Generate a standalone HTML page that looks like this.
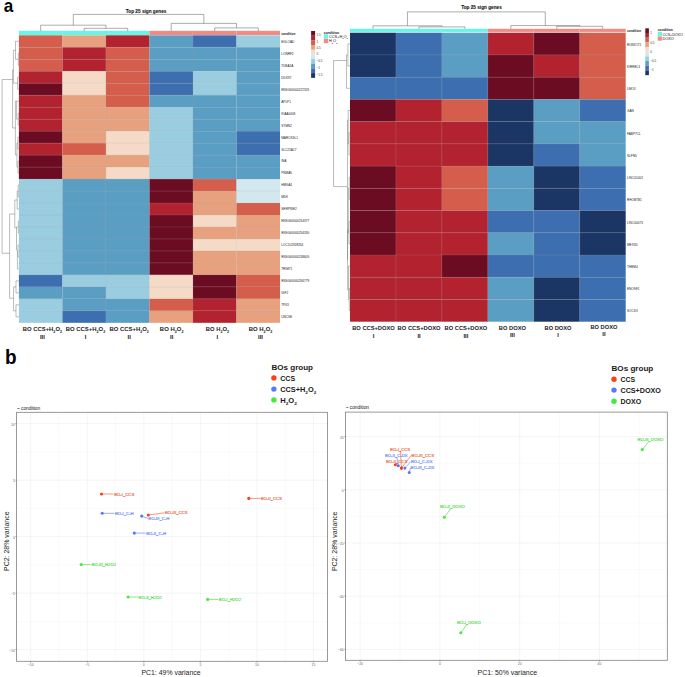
<!DOCTYPE html>
<html><head><meta charset="utf-8"><style>
html,body{margin:0;padding:0;background:#fff;width:685px;height:677px;overflow:hidden}
svg{display:block}
text{font-family:"Liberation Sans",sans-serif}
</style></head><body>
<svg width="685" height="677" viewBox="0 0 685 677" font-family="Liberation Sans, sans-serif">
<rect x="0" y="0" width="685" height="677" fill="#ffffff"/>
<text x="3.65" y="11.6" font-size="19" font-weight="bold" fill="#000" text-anchor="start" textLength="9.5" lengthAdjust="spacingAndGlyphs">a</text>
<text x="4.9" y="364" font-size="19.7" font-weight="bold" fill="#000" text-anchor="start" textLength="11.6" lengthAdjust="spacingAndGlyphs">b</text>
<rect x="18.9" y="30.8" width="43.52" height="4.2" fill="#64f6e6"/>
<rect x="62.42" y="30.8" width="43.52" height="4.2" fill="#64f6e6"/>
<rect x="105.94" y="30.8" width="43.52" height="4.2" fill="#64f6e6"/>
<rect x="149.46" y="30.8" width="43.52" height="4.2" fill="#f08a82"/>
<rect x="192.98" y="30.8" width="43.52" height="4.2" fill="#f08a82"/>
<rect x="236.5" y="30.8" width="43.52" height="4.2" fill="#f08a82"/>
<line x1="62.42" y1="30.8" x2="62.42" y2="35" stroke="#c8c8c8" stroke-width="0.3"/>
<line x1="105.94" y1="30.8" x2="105.94" y2="35" stroke="#c8c8c8" stroke-width="0.3"/>
<line x1="149.46" y1="30.8" x2="149.46" y2="35" stroke="#c8c8c8" stroke-width="0.3"/>
<line x1="192.98" y1="30.8" x2="192.98" y2="35" stroke="#c8c8c8" stroke-width="0.3"/>
<line x1="236.5" y1="30.8" x2="236.5" y2="35" stroke="#c8c8c8" stroke-width="0.3"/>
<rect x="18.9" y="35.3" width="43.52" height="11.98" fill="#d45d4c"/>
<rect x="62.42" y="35.3" width="43.52" height="11.98" fill="#e7a17f"/>
<rect x="105.94" y="35.3" width="43.52" height="11.98" fill="#b2222f"/>
<rect x="149.46" y="35.3" width="43.52" height="11.98" fill="#5a9ec4"/>
<rect x="192.98" y="35.3" width="43.52" height="11.98" fill="#3d6fb0"/>
<rect x="236.5" y="35.3" width="43.52" height="11.98" fill="#9acde0"/>
<rect x="18.9" y="47.28" width="43.52" height="11.98" fill="#d45d4c"/>
<rect x="62.42" y="47.28" width="43.52" height="11.98" fill="#b2222f"/>
<rect x="105.94" y="47.28" width="43.52" height="11.98" fill="#d45d4c"/>
<rect x="149.46" y="47.28" width="43.52" height="11.98" fill="#5a9ec4"/>
<rect x="192.98" y="47.28" width="43.52" height="11.98" fill="#5a9ec4"/>
<rect x="236.5" y="47.28" width="43.52" height="11.98" fill="#5a9ec4"/>
<rect x="18.9" y="59.26" width="43.52" height="11.98" fill="#d45d4c"/>
<rect x="62.42" y="59.26" width="43.52" height="11.98" fill="#b2222f"/>
<rect x="105.94" y="59.26" width="43.52" height="11.98" fill="#d45d4c"/>
<rect x="149.46" y="59.26" width="43.52" height="11.98" fill="#5a9ec4"/>
<rect x="192.98" y="59.26" width="43.52" height="11.98" fill="#5a9ec4"/>
<rect x="236.5" y="59.26" width="43.52" height="11.98" fill="#5a9ec4"/>
<rect x="18.9" y="71.24" width="43.52" height="11.98" fill="#b2222f"/>
<rect x="62.42" y="71.24" width="43.52" height="11.98" fill="#f5dac8"/>
<rect x="105.94" y="71.24" width="43.52" height="11.98" fill="#d45d4c"/>
<rect x="149.46" y="71.24" width="43.52" height="11.98" fill="#3d6fb0"/>
<rect x="192.98" y="71.24" width="43.52" height="11.98" fill="#9acde0"/>
<rect x="236.5" y="71.24" width="43.52" height="11.98" fill="#5a9ec4"/>
<rect x="18.9" y="83.22" width="43.52" height="11.98" fill="#6b0c22"/>
<rect x="62.42" y="83.22" width="43.52" height="11.98" fill="#f5dac8"/>
<rect x="105.94" y="83.22" width="43.52" height="11.98" fill="#d45d4c"/>
<rect x="149.46" y="83.22" width="43.52" height="11.98" fill="#3d6fb0"/>
<rect x="192.98" y="83.22" width="43.52" height="11.98" fill="#9acde0"/>
<rect x="236.5" y="83.22" width="43.52" height="11.98" fill="#5a9ec4"/>
<rect x="18.9" y="95.2" width="43.52" height="11.98" fill="#b2222f"/>
<rect x="62.42" y="95.2" width="43.52" height="11.98" fill="#e7a17f"/>
<rect x="105.94" y="95.2" width="43.52" height="11.98" fill="#d45d4c"/>
<rect x="149.46" y="95.2" width="43.52" height="11.98" fill="#5a9ec4"/>
<rect x="192.98" y="95.2" width="43.52" height="11.98" fill="#5a9ec4"/>
<rect x="236.5" y="95.2" width="43.52" height="11.98" fill="#5a9ec4"/>
<rect x="18.9" y="107.18" width="43.52" height="11.98" fill="#b2222f"/>
<rect x="62.42" y="107.18" width="43.52" height="11.98" fill="#e7a17f"/>
<rect x="105.94" y="107.18" width="43.52" height="11.98" fill="#e7a17f"/>
<rect x="149.46" y="107.18" width="43.52" height="11.98" fill="#9acde0"/>
<rect x="192.98" y="107.18" width="43.52" height="11.98" fill="#5a9ec4"/>
<rect x="236.5" y="107.18" width="43.52" height="11.98" fill="#5a9ec4"/>
<rect x="18.9" y="119.16" width="43.52" height="11.98" fill="#b2222f"/>
<rect x="62.42" y="119.16" width="43.52" height="11.98" fill="#e7a17f"/>
<rect x="105.94" y="119.16" width="43.52" height="11.98" fill="#e7a17f"/>
<rect x="149.46" y="119.16" width="43.52" height="11.98" fill="#9acde0"/>
<rect x="192.98" y="119.16" width="43.52" height="11.98" fill="#5a9ec4"/>
<rect x="236.5" y="119.16" width="43.52" height="11.98" fill="#5a9ec4"/>
<rect x="18.9" y="131.14" width="43.52" height="11.98" fill="#6b0c22"/>
<rect x="62.42" y="131.14" width="43.52" height="11.98" fill="#e7a17f"/>
<rect x="105.94" y="131.14" width="43.52" height="11.98" fill="#f5dac8"/>
<rect x="149.46" y="131.14" width="43.52" height="11.98" fill="#9acde0"/>
<rect x="192.98" y="131.14" width="43.52" height="11.98" fill="#5a9ec4"/>
<rect x="236.5" y="131.14" width="43.52" height="11.98" fill="#3d6fb0"/>
<rect x="18.9" y="143.12" width="43.52" height="11.98" fill="#b2222f"/>
<rect x="62.42" y="143.12" width="43.52" height="11.98" fill="#d45d4c"/>
<rect x="105.94" y="143.12" width="43.52" height="11.98" fill="#f5dac8"/>
<rect x="149.46" y="143.12" width="43.52" height="11.98" fill="#9acde0"/>
<rect x="192.98" y="143.12" width="43.52" height="11.98" fill="#5a9ec4"/>
<rect x="236.5" y="143.12" width="43.52" height="11.98" fill="#3d6fb0"/>
<rect x="18.9" y="155.1" width="43.52" height="11.98" fill="#6b0c22"/>
<rect x="62.42" y="155.1" width="43.52" height="11.98" fill="#e7a17f"/>
<rect x="105.94" y="155.1" width="43.52" height="11.98" fill="#e7a17f"/>
<rect x="149.46" y="155.1" width="43.52" height="11.98" fill="#9acde0"/>
<rect x="192.98" y="155.1" width="43.52" height="11.98" fill="#5a9ec4"/>
<rect x="236.5" y="155.1" width="43.52" height="11.98" fill="#5a9ec4"/>
<rect x="18.9" y="167.08" width="43.52" height="11.98" fill="#6b0c22"/>
<rect x="62.42" y="167.08" width="43.52" height="11.98" fill="#e7a17f"/>
<rect x="105.94" y="167.08" width="43.52" height="11.98" fill="#f5dac8"/>
<rect x="149.46" y="167.08" width="43.52" height="11.98" fill="#9acde0"/>
<rect x="192.98" y="167.08" width="43.52" height="11.98" fill="#5a9ec4"/>
<rect x="236.5" y="167.08" width="43.52" height="11.98" fill="#5a9ec4"/>
<rect x="18.9" y="179.06" width="43.52" height="11.98" fill="#9acde0"/>
<rect x="62.42" y="179.06" width="43.52" height="11.98" fill="#5a9ec4"/>
<rect x="105.94" y="179.06" width="43.52" height="11.98" fill="#5a9ec4"/>
<rect x="149.46" y="179.06" width="43.52" height="11.98" fill="#6b0c22"/>
<rect x="192.98" y="179.06" width="43.52" height="11.98" fill="#d45d4c"/>
<rect x="236.5" y="179.06" width="43.52" height="11.98" fill="#d2e7ee"/>
<rect x="18.9" y="191.04" width="43.52" height="11.98" fill="#9acde0"/>
<rect x="62.42" y="191.04" width="43.52" height="11.98" fill="#5a9ec4"/>
<rect x="105.94" y="191.04" width="43.52" height="11.98" fill="#5a9ec4"/>
<rect x="149.46" y="191.04" width="43.52" height="11.98" fill="#6b0c22"/>
<rect x="192.98" y="191.04" width="43.52" height="11.98" fill="#e7a17f"/>
<rect x="236.5" y="191.04" width="43.52" height="11.98" fill="#d2e7ee"/>
<rect x="18.9" y="203.02" width="43.52" height="11.98" fill="#9acde0"/>
<rect x="62.42" y="203.02" width="43.52" height="11.98" fill="#5a9ec4"/>
<rect x="105.94" y="203.02" width="43.52" height="11.98" fill="#5a9ec4"/>
<rect x="149.46" y="203.02" width="43.52" height="11.98" fill="#b2222f"/>
<rect x="192.98" y="203.02" width="43.52" height="11.98" fill="#e7a17f"/>
<rect x="236.5" y="203.02" width="43.52" height="11.98" fill="#d45d4c"/>
<rect x="18.9" y="215" width="43.52" height="11.98" fill="#9acde0"/>
<rect x="62.42" y="215" width="43.52" height="11.98" fill="#5a9ec4"/>
<rect x="105.94" y="215" width="43.52" height="11.98" fill="#5a9ec4"/>
<rect x="149.46" y="215" width="43.52" height="11.98" fill="#6b0c22"/>
<rect x="192.98" y="215" width="43.52" height="11.98" fill="#f5dac8"/>
<rect x="236.5" y="215" width="43.52" height="11.98" fill="#e7a17f"/>
<rect x="18.9" y="226.98" width="43.52" height="11.98" fill="#9acde0"/>
<rect x="62.42" y="226.98" width="43.52" height="11.98" fill="#5a9ec4"/>
<rect x="105.94" y="226.98" width="43.52" height="11.98" fill="#5a9ec4"/>
<rect x="149.46" y="226.98" width="43.52" height="11.98" fill="#6b0c22"/>
<rect x="192.98" y="226.98" width="43.52" height="11.98" fill="#e7a17f"/>
<rect x="236.5" y="226.98" width="43.52" height="11.98" fill="#e7a17f"/>
<rect x="18.9" y="238.96" width="43.52" height="11.98" fill="#9acde0"/>
<rect x="62.42" y="238.96" width="43.52" height="11.98" fill="#5a9ec4"/>
<rect x="105.94" y="238.96" width="43.52" height="11.98" fill="#5a9ec4"/>
<rect x="149.46" y="238.96" width="43.52" height="11.98" fill="#6b0c22"/>
<rect x="192.98" y="238.96" width="43.52" height="11.98" fill="#f5dac8"/>
<rect x="236.5" y="238.96" width="43.52" height="11.98" fill="#f5dac8"/>
<rect x="18.9" y="250.94" width="43.52" height="11.98" fill="#9acde0"/>
<rect x="62.42" y="250.94" width="43.52" height="11.98" fill="#5a9ec4"/>
<rect x="105.94" y="250.94" width="43.52" height="11.98" fill="#5a9ec4"/>
<rect x="149.46" y="250.94" width="43.52" height="11.98" fill="#6b0c22"/>
<rect x="192.98" y="250.94" width="43.52" height="11.98" fill="#e7a17f"/>
<rect x="236.5" y="250.94" width="43.52" height="11.98" fill="#e7a17f"/>
<rect x="18.9" y="262.92" width="43.52" height="11.98" fill="#9acde0"/>
<rect x="62.42" y="262.92" width="43.52" height="11.98" fill="#5a9ec4"/>
<rect x="105.94" y="262.92" width="43.52" height="11.98" fill="#5a9ec4"/>
<rect x="149.46" y="262.92" width="43.52" height="11.98" fill="#6b0c22"/>
<rect x="192.98" y="262.92" width="43.52" height="11.98" fill="#e7a17f"/>
<rect x="236.5" y="262.92" width="43.52" height="11.98" fill="#e7a17f"/>
<rect x="18.9" y="274.9" width="43.52" height="11.98" fill="#3d6fb0"/>
<rect x="62.42" y="274.9" width="43.52" height="11.98" fill="#9acde0"/>
<rect x="105.94" y="274.9" width="43.52" height="11.98" fill="#9acde0"/>
<rect x="149.46" y="274.9" width="43.52" height="11.98" fill="#f5dac8"/>
<rect x="192.98" y="274.9" width="43.52" height="11.98" fill="#6b0c22"/>
<rect x="236.5" y="274.9" width="43.52" height="11.98" fill="#d45d4c"/>
<rect x="18.9" y="286.88" width="43.52" height="11.98" fill="#5a9ec4"/>
<rect x="62.42" y="286.88" width="43.52" height="11.98" fill="#5a9ec4"/>
<rect x="105.94" y="286.88" width="43.52" height="11.98" fill="#9acde0"/>
<rect x="149.46" y="286.88" width="43.52" height="11.98" fill="#f5dac8"/>
<rect x="192.98" y="286.88" width="43.52" height="11.98" fill="#6b0c22"/>
<rect x="236.5" y="286.88" width="43.52" height="11.98" fill="#d45d4c"/>
<rect x="18.9" y="298.86" width="43.52" height="11.98" fill="#9acde0"/>
<rect x="62.42" y="298.86" width="43.52" height="11.98" fill="#5a9ec4"/>
<rect x="105.94" y="298.86" width="43.52" height="11.98" fill="#5a9ec4"/>
<rect x="149.46" y="298.86" width="43.52" height="11.98" fill="#d45d4c"/>
<rect x="192.98" y="298.86" width="43.52" height="11.98" fill="#b2222f"/>
<rect x="236.5" y="298.86" width="43.52" height="11.98" fill="#e7a17f"/>
<rect x="18.9" y="310.84" width="43.52" height="11.98" fill="#9acde0"/>
<rect x="62.42" y="310.84" width="43.52" height="11.98" fill="#3d6fb0"/>
<rect x="105.94" y="310.84" width="43.52" height="11.98" fill="#5a9ec4"/>
<rect x="149.46" y="310.84" width="43.52" height="11.98" fill="#e7a17f"/>
<rect x="192.98" y="310.84" width="43.52" height="11.98" fill="#b2222f"/>
<rect x="236.5" y="310.84" width="43.52" height="11.98" fill="#e7a17f"/>
<line x1="18.9" y1="47.28" x2="280.02" y2="47.28" stroke="#a0a0a0" stroke-width="0.35" stroke-opacity="0.55"/>
<line x1="18.9" y1="59.26" x2="280.02" y2="59.26" stroke="#a0a0a0" stroke-width="0.35" stroke-opacity="0.55"/>
<line x1="18.9" y1="71.24" x2="280.02" y2="71.24" stroke="#a0a0a0" stroke-width="0.35" stroke-opacity="0.55"/>
<line x1="18.9" y1="83.22" x2="280.02" y2="83.22" stroke="#a0a0a0" stroke-width="0.35" stroke-opacity="0.55"/>
<line x1="18.9" y1="95.2" x2="280.02" y2="95.2" stroke="#a0a0a0" stroke-width="0.35" stroke-opacity="0.55"/>
<line x1="18.9" y1="107.18" x2="280.02" y2="107.18" stroke="#a0a0a0" stroke-width="0.35" stroke-opacity="0.55"/>
<line x1="18.9" y1="119.16" x2="280.02" y2="119.16" stroke="#a0a0a0" stroke-width="0.35" stroke-opacity="0.55"/>
<line x1="18.9" y1="131.14" x2="280.02" y2="131.14" stroke="#a0a0a0" stroke-width="0.35" stroke-opacity="0.55"/>
<line x1="18.9" y1="143.12" x2="280.02" y2="143.12" stroke="#a0a0a0" stroke-width="0.35" stroke-opacity="0.55"/>
<line x1="18.9" y1="155.1" x2="280.02" y2="155.1" stroke="#a0a0a0" stroke-width="0.35" stroke-opacity="0.55"/>
<line x1="18.9" y1="167.08" x2="280.02" y2="167.08" stroke="#a0a0a0" stroke-width="0.35" stroke-opacity="0.55"/>
<line x1="18.9" y1="179.06" x2="280.02" y2="179.06" stroke="#a0a0a0" stroke-width="0.35" stroke-opacity="0.55"/>
<line x1="18.9" y1="191.04" x2="280.02" y2="191.04" stroke="#a0a0a0" stroke-width="0.35" stroke-opacity="0.55"/>
<line x1="18.9" y1="203.02" x2="280.02" y2="203.02" stroke="#a0a0a0" stroke-width="0.35" stroke-opacity="0.55"/>
<line x1="18.9" y1="215" x2="280.02" y2="215" stroke="#a0a0a0" stroke-width="0.35" stroke-opacity="0.55"/>
<line x1="18.9" y1="226.98" x2="280.02" y2="226.98" stroke="#a0a0a0" stroke-width="0.35" stroke-opacity="0.55"/>
<line x1="18.9" y1="238.96" x2="280.02" y2="238.96" stroke="#a0a0a0" stroke-width="0.35" stroke-opacity="0.55"/>
<line x1="18.9" y1="250.94" x2="280.02" y2="250.94" stroke="#a0a0a0" stroke-width="0.35" stroke-opacity="0.55"/>
<line x1="18.9" y1="262.92" x2="280.02" y2="262.92" stroke="#a0a0a0" stroke-width="0.35" stroke-opacity="0.55"/>
<line x1="18.9" y1="274.9" x2="280.02" y2="274.9" stroke="#a0a0a0" stroke-width="0.35" stroke-opacity="0.55"/>
<line x1="18.9" y1="286.88" x2="280.02" y2="286.88" stroke="#a0a0a0" stroke-width="0.35" stroke-opacity="0.55"/>
<line x1="18.9" y1="298.86" x2="280.02" y2="298.86" stroke="#a0a0a0" stroke-width="0.35" stroke-opacity="0.55"/>
<line x1="18.9" y1="310.84" x2="280.02" y2="310.84" stroke="#a0a0a0" stroke-width="0.35" stroke-opacity="0.55"/>
<line x1="62.42" y1="35.3" x2="62.42" y2="322.82" stroke="#a0a0a0" stroke-width="0.35" stroke-opacity="0.55"/>
<line x1="105.94" y1="35.3" x2="105.94" y2="322.82" stroke="#a0a0a0" stroke-width="0.35" stroke-opacity="0.55"/>
<line x1="149.46" y1="35.3" x2="149.46" y2="322.82" stroke="#a0a0a0" stroke-width="0.35" stroke-opacity="0.55"/>
<line x1="192.98" y1="35.3" x2="192.98" y2="322.82" stroke="#a0a0a0" stroke-width="0.35" stroke-opacity="0.55"/>
<line x1="236.5" y1="35.3" x2="236.5" y2="322.82" stroke="#a0a0a0" stroke-width="0.35" stroke-opacity="0.55"/>
<text x="146.1" y="12.6" font-size="5.1" font-weight="bold" fill="#111" text-anchor="middle" stroke="#111" stroke-width="0.1" textLength="40.6" lengthAdjust="spacingAndGlyphs">Top 25 sign genes</text>
<polyline points="84.18,31 84.18,28.3 127.7,28.3 127.7,31" fill="none" stroke="#5a5a5a" stroke-width="0.5"/>
<polyline points="40.66,31 40.66,25.2 105.94,25.2 105.94,28.3" fill="none" stroke="#5a5a5a" stroke-width="0.5"/>
<polyline points="214.74,31 214.74,27.9 258.26,27.9 258.26,31" fill="none" stroke="#5a5a5a" stroke-width="0.5"/>
<polyline points="171.22,31 171.22,23.4 236.5,23.4 236.5,27.9" fill="none" stroke="#5a5a5a" stroke-width="0.5"/>
<polyline points="73.3,25.2 73.3,14.4 203.86,14.4 203.86,23.4" fill="none" stroke="#5a5a5a" stroke-width="0.5"/>
<text x="281.2" y="34.7" font-size="3.15" font-weight="bold" fill="#222" text-anchor="start">condition</text>
<text x="281.2" y="43.09" font-size="3.15" font-weight="normal" fill="#222" text-anchor="start">EGLOAD</text>
<text x="281.2" y="55.03" font-size="3.15" font-weight="normal" fill="#222" text-anchor="start">LONRF2</text>
<text x="281.2" y="66.97" font-size="3.15" font-weight="normal" fill="#222" text-anchor="start">TUBA1A</text>
<text x="281.2" y="78.91" font-size="3.15" font-weight="normal" fill="#222" text-anchor="start">DDX3Y</text>
<text x="281.2" y="90.85" font-size="3.15" font-weight="normal" fill="#222" text-anchor="start">ENSG00000222325</text>
<text x="281.2" y="102.79" font-size="3.15" font-weight="normal" fill="#222" text-anchor="start">APLP1</text>
<text x="281.2" y="114.73" font-size="3.15" font-weight="normal" fill="#222" text-anchor="start">KIAA0408</text>
<text x="281.2" y="126.67" font-size="3.15" font-weight="normal" fill="#222" text-anchor="start">STMN2</text>
<text x="281.2" y="138.61" font-size="3.15" font-weight="normal" fill="#222" text-anchor="start">MARCKSL1</text>
<text x="281.2" y="150.55" font-size="3.15" font-weight="normal" fill="#222" text-anchor="start">SLC22A17</text>
<text x="281.2" y="162.49" font-size="3.15" font-weight="normal" fill="#222" text-anchor="start">INA</text>
<text x="281.2" y="174.43" font-size="3.15" font-weight="normal" fill="#222" text-anchor="start">PNMA5</text>
<text x="281.2" y="186.37" font-size="3.15" font-weight="normal" fill="#222" text-anchor="start">HMGA1</text>
<text x="281.2" y="198.31" font-size="3.15" font-weight="normal" fill="#222" text-anchor="start">MDK</text>
<text x="281.2" y="210.25" font-size="3.15" font-weight="normal" fill="#222" text-anchor="start">SERPINE2</text>
<text x="281.2" y="222.19" font-size="3.15" font-weight="normal" fill="#222" text-anchor="start">ENSG00000254377</text>
<text x="281.2" y="234.13" font-size="3.15" font-weight="normal" fill="#222" text-anchor="start">ENSG00000254330</text>
<text x="281.2" y="246.07" font-size="3.15" font-weight="normal" fill="#222" text-anchor="start">LOC101928254</text>
<text x="281.2" y="258.01" font-size="3.15" font-weight="normal" fill="#222" text-anchor="start">ENSG00000248605</text>
<text x="281.2" y="269.95" font-size="3.15" font-weight="normal" fill="#222" text-anchor="start">TRIM71</text>
<text x="281.2" y="281.89" font-size="3.15" font-weight="normal" fill="#222" text-anchor="start">ENSG00000284779</text>
<text x="281.2" y="293.83" font-size="3.15" font-weight="normal" fill="#222" text-anchor="start">IGF2</text>
<text x="281.2" y="305.77" font-size="3.15" font-weight="normal" fill="#222" text-anchor="start">TP63</text>
<text x="281.2" y="317.71" font-size="3.15" font-weight="normal" fill="#222" text-anchor="start">UNC5B</text>
<polyline points="18.9,53.27 18.3,53.27 18.3,65.25 18.9,65.25" fill="none" stroke="#6a6a6a" stroke-width="0.45"/>
<polyline points="18.9,41.29 15.5,41.29 15.5,59.26 18.3,59.26" fill="none" stroke="#6a6a6a" stroke-width="0.45"/>
<polyline points="18.9,77.23 17.6,77.23 17.6,89.21 18.9,89.21" fill="none" stroke="#6a6a6a" stroke-width="0.45"/>
<polyline points="15.5,50.3 13.4,50.3 13.4,83.1 17.6,83.1" fill="none" stroke="#6a6a6a" stroke-width="0.45"/>
<polyline points="18.9,113.17 18.2,113.17 18.2,125.15 18.9,125.15" fill="none" stroke="#6a6a6a" stroke-width="0.45"/>
<polyline points="18.9,101.19 16.6,101.19 16.6,119.16 18.2,119.16" fill="none" stroke="#6a6a6a" stroke-width="0.45"/>
<polyline points="18.9,137.13 17.9,137.13 17.9,149.11 18.9,149.11" fill="none" stroke="#6a6a6a" stroke-width="0.45"/>
<polyline points="18.9,161.09 18,161.09 18,173.07 18.9,173.07" fill="none" stroke="#6a6a6a" stroke-width="0.45"/>
<polyline points="17.9,143.12 16.9,143.12 16.9,167.08 18,167.08" fill="none" stroke="#6a6a6a" stroke-width="0.45"/>
<polyline points="16.6,101 15.4,101 15.4,155 16.9,155" fill="none" stroke="#6a6a6a" stroke-width="0.45"/>
<polyline points="13.4,70 12.6,70 12.6,128 15.4,128" fill="none" stroke="#6a6a6a" stroke-width="0.45"/>
<polyline points="2.1,79.5 2.1,253.3" fill="none" stroke="#6a6a6a" stroke-width="0.45"/>
<polyline points="2.1,79.5 12.6,79.5" fill="none" stroke="#6a6a6a" stroke-width="0.45"/>
<polyline points="2.1,253.3 9.6,253.3" fill="none" stroke="#6a6a6a" stroke-width="0.45"/>
<polyline points="18.9,185.05 18.2,185.05 18.2,197.03 18.9,197.03" fill="none" stroke="#6a6a6a" stroke-width="0.45"/>
<polyline points="18.9,209.01 17.2,209.01 17.2,191.04 18.2,191.04" fill="none" stroke="#6a6a6a" stroke-width="0.45"/>
<polyline points="18.9,220.99 18.3,220.99 18.3,232.97 18.9,232.97" fill="none" stroke="#6a6a6a" stroke-width="0.45"/>
<polyline points="18.9,244.95 18,244.95 18,256.93 18.9,256.93" fill="none" stroke="#6a6a6a" stroke-width="0.45"/>
<polyline points="18.9,268.91 17.4,268.91 17.4,250.94 18,250.94" fill="none" stroke="#6a6a6a" stroke-width="0.45"/>
<polyline points="18.3,226.98 16.5,226.98 16.5,250 17.4,250" fill="none" stroke="#6a6a6a" stroke-width="0.45"/>
<polyline points="17.2,200 14.8,200 14.8,228 16.5,228" fill="none" stroke="#6a6a6a" stroke-width="0.45"/>
<polyline points="18.9,280.89 16,280.89 16,292.87 18.9,292.87" fill="none" stroke="#6a6a6a" stroke-width="0.45"/>
<polyline points="18.9,304.85 16,304.85 16,316.83 18.9,316.83" fill="none" stroke="#6a6a6a" stroke-width="0.45"/>
<polyline points="16,286.88 13.6,286.88 13.6,310.84 16,310.84" fill="none" stroke="#6a6a6a" stroke-width="0.45"/>
<polyline points="14.8,214 9.6,214 9.6,298.2 13.6,298.2" fill="none" stroke="#6a6a6a" stroke-width="0.45"/>
<text x="42.4" y="331" font-size="5.9" font-weight="bold" fill="#1a1a1a" text-anchor="middle" textLength="39.2" lengthAdjust="spacingAndGlyphs">BO CCS+H<tspan font-size="62%" dy="0.53em">2</tspan><tspan dy="-0.33em">O</tspan><tspan font-size="62%" dy="0.53em">2</tspan></text>
<text x="42.4" y="338.6" font-size="5.9" font-weight="bold" fill="#1a1a1a" text-anchor="middle">III</text>
<text x="85.5" y="331" font-size="5.9" font-weight="bold" fill="#1a1a1a" text-anchor="middle" textLength="39.5" lengthAdjust="spacingAndGlyphs">BO CCS+H<tspan font-size="62%" dy="0.53em">2</tspan><tspan dy="-0.33em">O</tspan><tspan font-size="62%" dy="0.53em">2</tspan></text>
<text x="85.5" y="338.6" font-size="5.9" font-weight="bold" fill="#1a1a1a" text-anchor="middle">I</text>
<text x="129.2" y="331" font-size="5.9" font-weight="bold" fill="#1a1a1a" text-anchor="middle" textLength="39.4" lengthAdjust="spacingAndGlyphs">BO CCS+H<tspan font-size="62%" dy="0.53em">2</tspan><tspan dy="-0.33em">O</tspan><tspan font-size="62%" dy="0.53em">2</tspan></text>
<text x="129.2" y="338.6" font-size="5.9" font-weight="bold" fill="#1a1a1a" text-anchor="middle">II</text>
<text x="171.65" y="331" font-size="5.9" font-weight="bold" fill="#1a1a1a" text-anchor="middle" textLength="23.6" lengthAdjust="spacingAndGlyphs">BO H<tspan font-size="62%" dy="0.53em">2</tspan><tspan dy="-0.33em">O</tspan><tspan font-size="62%" dy="0.53em">2</tspan></text>
<text x="171.65" y="338.6" font-size="5.9" font-weight="bold" fill="#1a1a1a" text-anchor="middle">II</text>
<text x="217.4" y="331" font-size="5.9" font-weight="bold" fill="#1a1a1a" text-anchor="middle" textLength="23.2" lengthAdjust="spacingAndGlyphs">BO H<tspan font-size="62%" dy="0.53em">2</tspan><tspan dy="-0.33em">O</tspan><tspan font-size="62%" dy="0.53em">2</tspan></text>
<text x="217.4" y="338.6" font-size="5.9" font-weight="bold" fill="#1a1a1a" text-anchor="middle">I</text>
<text x="260.55" y="331" font-size="5.9" font-weight="bold" fill="#1a1a1a" text-anchor="middle" textLength="23.6" lengthAdjust="spacingAndGlyphs">BO H<tspan font-size="62%" dy="0.53em">2</tspan><tspan dy="-0.33em">O</tspan><tspan font-size="62%" dy="0.53em">2</tspan></text>
<text x="260.55" y="338.6" font-size="5.9" font-weight="bold" fill="#1a1a1a" text-anchor="middle">III</text>
<rect x="311.1" y="31" width="4" height="4.73" fill="#6b0c22"/>
<rect x="311.1" y="35.68" width="4" height="4.73" fill="#b2222f"/>
<rect x="311.1" y="40.36" width="4" height="4.73" fill="#d45d4c"/>
<rect x="311.1" y="45.04" width="4" height="4.73" fill="#e7a17f"/>
<rect x="311.1" y="49.72" width="4" height="4.73" fill="#f5dac8"/>
<rect x="311.1" y="54.4" width="4" height="4.73" fill="#d2e7ee"/>
<rect x="311.1" y="59.08" width="4" height="4.73" fill="#9acde0"/>
<rect x="311.1" y="63.76" width="4" height="4.73" fill="#5a9ec4"/>
<rect x="311.1" y="68.44" width="4" height="4.73" fill="#3d6fb0"/>
<rect x="311.1" y="73.12" width="4" height="4.73" fill="#1b3564"/>
<text x="316.6" y="35.5" font-size="3" font-weight="normal" fill="#333" text-anchor="start">1.5</text>
<text x="316.6" y="42.5" font-size="3" font-weight="normal" fill="#333" text-anchor="start">1</text>
<text x="316.6" y="49.1" font-size="3" font-weight="normal" fill="#333" text-anchor="start">0.5</text>
<text x="316.6" y="55.4" font-size="3" font-weight="normal" fill="#333" text-anchor="start">0</text>
<text x="316.6" y="62.1" font-size="3" font-weight="normal" fill="#333" text-anchor="start">−0.5</text>
<text x="316.6" y="68.8" font-size="3" font-weight="normal" fill="#333" text-anchor="start">−1</text>
<text x="316.6" y="75.6" font-size="3" font-weight="normal" fill="#333" text-anchor="start">−1.5</text>
<text x="323.8" y="33.6" font-size="3.4" font-weight="bold" fill="#222" text-anchor="start">condition</text>
<rect x="323.8" y="34.3" width="4.4" height="4.4" fill="#64f6e6"/>
<rect x="323.8" y="38.9" width="4.4" height="4.3" fill="#f08a82"/>
<text x="328.9" y="37.9" font-size="3.9" font-weight="normal" fill="#111" text-anchor="start">CCS+H<tspan font-size="62%" dy="0.53em">2</tspan><tspan dy="-0.33em">O</tspan><tspan font-size="62%" dy="0.53em">2</tspan></text>
<text x="328.9" y="42.4" font-size="3.9" font-weight="normal" fill="#111" text-anchor="start">H<tspan font-size="62%" dy="0.53em">2</tspan><tspan dy="-0.33em">O</tspan><tspan font-size="62%" dy="0.53em">2</tspan></text>
<rect x="350" y="28.8" width="45.95" height="3.1" fill="#64f6e6"/>
<rect x="395.95" y="28.8" width="45.95" height="3.1" fill="#64f6e6"/>
<rect x="441.9" y="28.8" width="45.95" height="3.1" fill="#64f6e6"/>
<rect x="487.85" y="28.8" width="45.95" height="3.1" fill="#f08a82"/>
<rect x="533.8" y="28.8" width="45.95" height="3.1" fill="#f08a82"/>
<rect x="579.75" y="28.8" width="45.95" height="3.1" fill="#f08a82"/>
<line x1="395.95" y1="28.8" x2="395.95" y2="31.9" stroke="#c8c8c8" stroke-width="0.3"/>
<line x1="441.9" y1="28.8" x2="441.9" y2="31.9" stroke="#c8c8c8" stroke-width="0.3"/>
<line x1="487.85" y1="28.8" x2="487.85" y2="31.9" stroke="#c8c8c8" stroke-width="0.3"/>
<line x1="533.8" y1="28.8" x2="533.8" y2="31.9" stroke="#c8c8c8" stroke-width="0.3"/>
<line x1="579.75" y1="28.8" x2="579.75" y2="31.9" stroke="#c8c8c8" stroke-width="0.3"/>
<rect x="350" y="32.7" width="45.95" height="22.23" fill="#1b3564"/>
<rect x="395.95" y="32.7" width="45.95" height="22.23" fill="#3d6fb0"/>
<rect x="441.9" y="32.7" width="45.95" height="22.23" fill="#5a9ec4"/>
<rect x="487.85" y="32.7" width="45.95" height="22.23" fill="#b2222f"/>
<rect x="533.8" y="32.7" width="45.95" height="22.23" fill="#6b0c22"/>
<rect x="579.75" y="32.7" width="45.95" height="22.23" fill="#d45d4c"/>
<rect x="350" y="54.93" width="45.95" height="22.23" fill="#1b3564"/>
<rect x="395.95" y="54.93" width="45.95" height="22.23" fill="#3d6fb0"/>
<rect x="441.9" y="54.93" width="45.95" height="22.23" fill="#5a9ec4"/>
<rect x="487.85" y="54.93" width="45.95" height="22.23" fill="#6b0c22"/>
<rect x="533.8" y="54.93" width="45.95" height="22.23" fill="#b2222f"/>
<rect x="579.75" y="54.93" width="45.95" height="22.23" fill="#d45d4c"/>
<rect x="350" y="77.16" width="45.95" height="22.23" fill="#3d6fb0"/>
<rect x="395.95" y="77.16" width="45.95" height="22.23" fill="#3d6fb0"/>
<rect x="441.9" y="77.16" width="45.95" height="22.23" fill="#3d6fb0"/>
<rect x="487.85" y="77.16" width="45.95" height="22.23" fill="#6b0c22"/>
<rect x="533.8" y="77.16" width="45.95" height="22.23" fill="#6b0c22"/>
<rect x="579.75" y="77.16" width="45.95" height="22.23" fill="#d45d4c"/>
<rect x="350" y="99.39" width="45.95" height="22.23" fill="#6b0c22"/>
<rect x="395.95" y="99.39" width="45.95" height="22.23" fill="#b2222f"/>
<rect x="441.9" y="99.39" width="45.95" height="22.23" fill="#d45d4c"/>
<rect x="487.85" y="99.39" width="45.95" height="22.23" fill="#1b3564"/>
<rect x="533.8" y="99.39" width="45.95" height="22.23" fill="#5a9ec4"/>
<rect x="579.75" y="99.39" width="45.95" height="22.23" fill="#3d6fb0"/>
<rect x="350" y="121.62" width="45.95" height="22.23" fill="#b2222f"/>
<rect x="395.95" y="121.62" width="45.95" height="22.23" fill="#b2222f"/>
<rect x="441.9" y="121.62" width="45.95" height="22.23" fill="#b2222f"/>
<rect x="487.85" y="121.62" width="45.95" height="22.23" fill="#1b3564"/>
<rect x="533.8" y="121.62" width="45.95" height="22.23" fill="#5a9ec4"/>
<rect x="579.75" y="121.62" width="45.95" height="22.23" fill="#5a9ec4"/>
<rect x="350" y="143.85" width="45.95" height="22.23" fill="#b2222f"/>
<rect x="395.95" y="143.85" width="45.95" height="22.23" fill="#b2222f"/>
<rect x="441.9" y="143.85" width="45.95" height="22.23" fill="#b2222f"/>
<rect x="487.85" y="143.85" width="45.95" height="22.23" fill="#1b3564"/>
<rect x="533.8" y="143.85" width="45.95" height="22.23" fill="#3d6fb0"/>
<rect x="579.75" y="143.85" width="45.95" height="22.23" fill="#5a9ec4"/>
<rect x="350" y="166.08" width="45.95" height="22.23" fill="#6b0c22"/>
<rect x="395.95" y="166.08" width="45.95" height="22.23" fill="#b2222f"/>
<rect x="441.9" y="166.08" width="45.95" height="22.23" fill="#d45d4c"/>
<rect x="487.85" y="166.08" width="45.95" height="22.23" fill="#5a9ec4"/>
<rect x="533.8" y="166.08" width="45.95" height="22.23" fill="#1b3564"/>
<rect x="579.75" y="166.08" width="45.95" height="22.23" fill="#3d6fb0"/>
<rect x="350" y="188.31" width="45.95" height="22.23" fill="#6b0c22"/>
<rect x="395.95" y="188.31" width="45.95" height="22.23" fill="#b2222f"/>
<rect x="441.9" y="188.31" width="45.95" height="22.23" fill="#d45d4c"/>
<rect x="487.85" y="188.31" width="45.95" height="22.23" fill="#5a9ec4"/>
<rect x="533.8" y="188.31" width="45.95" height="22.23" fill="#1b3564"/>
<rect x="579.75" y="188.31" width="45.95" height="22.23" fill="#3d6fb0"/>
<rect x="350" y="210.54" width="45.95" height="22.23" fill="#6b0c22"/>
<rect x="395.95" y="210.54" width="45.95" height="22.23" fill="#b2222f"/>
<rect x="441.9" y="210.54" width="45.95" height="22.23" fill="#b2222f"/>
<rect x="487.85" y="210.54" width="45.95" height="22.23" fill="#3d6fb0"/>
<rect x="533.8" y="210.54" width="45.95" height="22.23" fill="#3d6fb0"/>
<rect x="579.75" y="210.54" width="45.95" height="22.23" fill="#1b3564"/>
<rect x="350" y="232.77" width="45.95" height="22.23" fill="#6b0c22"/>
<rect x="395.95" y="232.77" width="45.95" height="22.23" fill="#b2222f"/>
<rect x="441.9" y="232.77" width="45.95" height="22.23" fill="#b2222f"/>
<rect x="487.85" y="232.77" width="45.95" height="22.23" fill="#5a9ec4"/>
<rect x="533.8" y="232.77" width="45.95" height="22.23" fill="#3d6fb0"/>
<rect x="579.75" y="232.77" width="45.95" height="22.23" fill="#1b3564"/>
<rect x="350" y="255" width="45.95" height="22.23" fill="#b2222f"/>
<rect x="395.95" y="255" width="45.95" height="22.23" fill="#b2222f"/>
<rect x="441.9" y="255" width="45.95" height="22.23" fill="#6b0c22"/>
<rect x="487.85" y="255" width="45.95" height="22.23" fill="#3d6fb0"/>
<rect x="533.8" y="255" width="45.95" height="22.23" fill="#3d6fb0"/>
<rect x="579.75" y="255" width="45.95" height="22.23" fill="#3d6fb0"/>
<rect x="350" y="277.23" width="45.95" height="22.23" fill="#b2222f"/>
<rect x="395.95" y="277.23" width="45.95" height="22.23" fill="#b2222f"/>
<rect x="441.9" y="277.23" width="45.95" height="22.23" fill="#b2222f"/>
<rect x="487.85" y="277.23" width="45.95" height="22.23" fill="#5a9ec4"/>
<rect x="533.8" y="277.23" width="45.95" height="22.23" fill="#1b3564"/>
<rect x="579.75" y="277.23" width="45.95" height="22.23" fill="#3d6fb0"/>
<rect x="350" y="299.46" width="45.95" height="22.23" fill="#b2222f"/>
<rect x="395.95" y="299.46" width="45.95" height="22.23" fill="#b2222f"/>
<rect x="441.9" y="299.46" width="45.95" height="22.23" fill="#b2222f"/>
<rect x="487.85" y="299.46" width="45.95" height="22.23" fill="#5a9ec4"/>
<rect x="533.8" y="299.46" width="45.95" height="22.23" fill="#1b3564"/>
<rect x="579.75" y="299.46" width="45.95" height="22.23" fill="#3d6fb0"/>
<line x1="350" y1="54.93" x2="625.7" y2="54.93" stroke="#a0a0a0" stroke-width="0.35" stroke-opacity="0.55"/>
<line x1="350" y1="77.16" x2="625.7" y2="77.16" stroke="#a0a0a0" stroke-width="0.35" stroke-opacity="0.55"/>
<line x1="350" y1="99.39" x2="625.7" y2="99.39" stroke="#a0a0a0" stroke-width="0.35" stroke-opacity="0.55"/>
<line x1="350" y1="121.62" x2="625.7" y2="121.62" stroke="#a0a0a0" stroke-width="0.35" stroke-opacity="0.55"/>
<line x1="350" y1="143.85" x2="625.7" y2="143.85" stroke="#a0a0a0" stroke-width="0.35" stroke-opacity="0.55"/>
<line x1="350" y1="166.08" x2="625.7" y2="166.08" stroke="#a0a0a0" stroke-width="0.35" stroke-opacity="0.55"/>
<line x1="350" y1="188.31" x2="625.7" y2="188.31" stroke="#a0a0a0" stroke-width="0.35" stroke-opacity="0.55"/>
<line x1="350" y1="210.54" x2="625.7" y2="210.54" stroke="#a0a0a0" stroke-width="0.35" stroke-opacity="0.55"/>
<line x1="350" y1="232.77" x2="625.7" y2="232.77" stroke="#a0a0a0" stroke-width="0.35" stroke-opacity="0.55"/>
<line x1="350" y1="255" x2="625.7" y2="255" stroke="#a0a0a0" stroke-width="0.35" stroke-opacity="0.55"/>
<line x1="350" y1="277.23" x2="625.7" y2="277.23" stroke="#a0a0a0" stroke-width="0.35" stroke-opacity="0.55"/>
<line x1="350" y1="299.46" x2="625.7" y2="299.46" stroke="#a0a0a0" stroke-width="0.35" stroke-opacity="0.55"/>
<line x1="395.95" y1="32.7" x2="395.95" y2="321.69" stroke="#a0a0a0" stroke-width="0.35" stroke-opacity="0.55"/>
<line x1="441.9" y1="32.7" x2="441.9" y2="321.69" stroke="#a0a0a0" stroke-width="0.35" stroke-opacity="0.55"/>
<line x1="487.85" y1="32.7" x2="487.85" y2="321.69" stroke="#a0a0a0" stroke-width="0.35" stroke-opacity="0.55"/>
<line x1="533.8" y1="32.7" x2="533.8" y2="321.69" stroke="#a0a0a0" stroke-width="0.35" stroke-opacity="0.55"/>
<line x1="579.75" y1="32.7" x2="579.75" y2="321.69" stroke="#a0a0a0" stroke-width="0.35" stroke-opacity="0.55"/>
<text x="481.45" y="9.1" font-size="5.1" font-weight="bold" fill="#111" text-anchor="middle" stroke="#111" stroke-width="0.1" textLength="40.6" lengthAdjust="spacingAndGlyphs">Top 25 sign genes</text>
<polyline points="418.93,28.8 418.93,26.9 464.88,26.9 464.88,28.8" fill="none" stroke="#5a5a5a" stroke-width="0.5"/>
<polyline points="372.98,28.8 372.98,25.8 441.9,25.8 441.9,26.9" fill="none" stroke="#5a5a5a" stroke-width="0.5"/>
<polyline points="556.77,28.8 556.77,26.3 602.73,26.3 602.73,28.8" fill="none" stroke="#5a5a5a" stroke-width="0.5"/>
<polyline points="510.83,28.8 510.83,25.6 579.75,25.6 579.75,26.3" fill="none" stroke="#5a5a5a" stroke-width="0.5"/>
<polyline points="407.44,25.8 407.44,11.9 545.29,11.9 545.29,25.6" fill="none" stroke="#5a5a5a" stroke-width="0.5"/>
<text x="627" y="31.6" font-size="3.15" font-weight="bold" fill="#222" text-anchor="start">condition</text>
<text x="627" y="45.72" font-size="3.15" font-weight="normal" fill="#222" text-anchor="start">RUNX1T1</text>
<text x="627" y="67.95" font-size="3.15" font-weight="normal" fill="#222" text-anchor="start">KIRREL3</text>
<text x="627" y="90.18" font-size="3.15" font-weight="normal" fill="#222" text-anchor="start">LMO3</text>
<text x="627" y="112.41" font-size="3.15" font-weight="normal" fill="#222" text-anchor="start">GAN</text>
<text x="627" y="134.64" font-size="3.15" font-weight="normal" fill="#222" text-anchor="start">FABP7CL</text>
<text x="627" y="156.87" font-size="3.15" font-weight="normal" fill="#222" text-anchor="start">SLFN5</text>
<text x="627" y="179.09" font-size="3.15" font-weight="normal" fill="#222" text-anchor="start">LINC01402</text>
<text x="627" y="201.33" font-size="3.15" font-weight="normal" fill="#222" text-anchor="start">RHOBTB1</text>
<text x="627" y="223.56" font-size="3.15" font-weight="normal" fill="#222" text-anchor="start">LINC00473</text>
<text x="627" y="245.78" font-size="3.15" font-weight="normal" fill="#222" text-anchor="start">MEX3D</text>
<text x="627" y="268.01" font-size="3.15" font-weight="normal" fill="#222" text-anchor="start">THEM4</text>
<text x="627" y="290.25" font-size="3.15" font-weight="normal" fill="#222" text-anchor="start">ENOSF1</text>
<text x="627" y="312.47" font-size="3.15" font-weight="normal" fill="#222" text-anchor="start">SOCS3</text>
<polyline points="350,43.82 347.9,43.82 347.9,66.05 350,66.05" fill="none" stroke="#6a6a6a" stroke-width="0.45"/>
<polyline points="350,88.28 346.5,88.28 346.5,54.93 347.9,54.93" fill="none" stroke="#6a6a6a" stroke-width="0.45"/>
<polyline points="333.5,60.5 333.5,186.6" fill="none" stroke="#6a6a6a" stroke-width="0.45"/>
<polyline points="333.5,60.5 346.5,60.5" fill="none" stroke="#6a6a6a" stroke-width="0.45"/>
<polyline points="333.5,186.6 347.5,186.6" fill="none" stroke="#6a6a6a" stroke-width="0.45"/>
<polyline points="350,132.74 349,132.74 349,154.97 350,154.97" fill="none" stroke="#6a6a6a" stroke-width="0.45"/>
<polyline points="350,110.51 348.2,110.51 348.2,143.85 349,143.85" fill="none" stroke="#6a6a6a" stroke-width="0.45"/>
<polyline points="350,177.19 349.2,177.19 349.2,199.43 350,199.43" fill="none" stroke="#6a6a6a" stroke-width="0.45"/>
<polyline points="350,221.66 349,221.66 349,243.88 350,243.88" fill="none" stroke="#6a6a6a" stroke-width="0.45"/>
<polyline points="349.2,188.31 348.3,188.31 348.3,232.77 349,232.77" fill="none" stroke="#6a6a6a" stroke-width="0.45"/>
<polyline points="350,288.35 349.3,288.35 349.3,310.57 350,310.57" fill="none" stroke="#6a6a6a" stroke-width="0.45"/>
<polyline points="350,266.12 348.6,266.12 348.6,299.46 349.3,299.46" fill="none" stroke="#6a6a6a" stroke-width="0.45"/>
<polyline points="348.3,230 347.6,230 347.6,290 348.6,290" fill="none" stroke="#6a6a6a" stroke-width="0.45"/>
<polyline points="348.2,120 347.5,120 347.5,260 347.6,260" fill="none" stroke="#6a6a6a" stroke-width="0.45"/>
<text x="373.5" y="330" font-size="5.9" font-weight="bold" fill="#1a1a1a" text-anchor="middle" textLength="42.6" lengthAdjust="spacingAndGlyphs">BO CCS+DOXO</text>
<text x="373.5" y="337.5" font-size="5.9" font-weight="bold" fill="#1a1a1a" text-anchor="middle">I</text>
<text x="419.1" y="330" font-size="5.9" font-weight="bold" fill="#1a1a1a" text-anchor="middle" textLength="43" lengthAdjust="spacingAndGlyphs">BO CCS+DOXO</text>
<text x="419.1" y="337.5" font-size="5.9" font-weight="bold" fill="#1a1a1a" text-anchor="middle">II</text>
<text x="465.9" y="330" font-size="5.9" font-weight="bold" fill="#1a1a1a" text-anchor="middle" textLength="42.8" lengthAdjust="spacingAndGlyphs">BO CCS+DOXO</text>
<text x="465.9" y="337.5" font-size="5.9" font-weight="bold" fill="#1a1a1a" text-anchor="middle">III</text>
<text x="512.4" y="329.6" font-size="5.9" font-weight="bold" fill="#1a1a1a" text-anchor="middle" textLength="27.2" lengthAdjust="spacingAndGlyphs">BO DOXO</text>
<text x="512.4" y="337.1" font-size="5.9" font-weight="bold" fill="#1a1a1a" text-anchor="middle">III</text>
<text x="558" y="329.6" font-size="5.9" font-weight="bold" fill="#1a1a1a" text-anchor="middle" textLength="26.9" lengthAdjust="spacingAndGlyphs">BO DOXO</text>
<text x="558" y="337.1" font-size="5.9" font-weight="bold" fill="#1a1a1a" text-anchor="middle">I</text>
<text x="603.95" y="328.9" font-size="5.9" font-weight="bold" fill="#1a1a1a" text-anchor="middle" textLength="26.9" lengthAdjust="spacingAndGlyphs">BO DOXO</text>
<text x="603.95" y="336.4" font-size="5.9" font-weight="bold" fill="#1a1a1a" text-anchor="middle">II</text>
<rect x="645.3" y="28.3" width="3.6" height="4.73" fill="#6b0c22"/>
<rect x="645.3" y="32.98" width="3.6" height="4.73" fill="#b2222f"/>
<rect x="645.3" y="37.66" width="3.6" height="4.73" fill="#d45d4c"/>
<rect x="645.3" y="42.34" width="3.6" height="4.73" fill="#e7a17f"/>
<rect x="645.3" y="47.02" width="3.6" height="4.73" fill="#f5dac8"/>
<rect x="645.3" y="51.7" width="3.6" height="4.73" fill="#d2e7ee"/>
<rect x="645.3" y="56.38" width="3.6" height="4.73" fill="#9acde0"/>
<rect x="645.3" y="61.06" width="3.6" height="4.73" fill="#5a9ec4"/>
<rect x="645.3" y="65.74" width="3.6" height="4.73" fill="#3d6fb0"/>
<rect x="645.3" y="70.42" width="3.6" height="4.73" fill="#1b3564"/>
<text x="650.3" y="34.3" font-size="3" font-weight="normal" fill="#333" text-anchor="start">1</text>
<text x="650.3" y="43.6" font-size="3" font-weight="normal" fill="#333" text-anchor="start">0.5</text>
<text x="650.3" y="52.8" font-size="3" font-weight="normal" fill="#333" text-anchor="start">0</text>
<text x="650.3" y="62.4" font-size="3" font-weight="normal" fill="#333" text-anchor="start">−0.5</text>
<text x="650.3" y="71.4" font-size="3" font-weight="normal" fill="#333" text-anchor="start">−1</text>
<text x="657.7" y="31" font-size="3.4" font-weight="bold" fill="#222" text-anchor="start">condition</text>
<rect x="657.7" y="31.9" width="4.2" height="4.3" fill="#64f6e6"/>
<rect x="657.7" y="36.5" width="4.2" height="4.2" fill="#f08a82"/>
<text x="662.5" y="35.5" font-size="3.8" font-weight="normal" fill="#111" text-anchor="start" textLength="20.2" lengthAdjust="spacingAndGlyphs">CCS+DOXO</text>
<text x="662.5" y="40" font-size="3.8" font-weight="normal" fill="#111" text-anchor="start">DOXO</text>
<line x1="58.98" y1="412.3" x2="58.98" y2="661.3" stroke="#f3f3f3" stroke-width="0.45"/>
<line x1="115.53" y1="412.3" x2="115.53" y2="661.3" stroke="#f3f3f3" stroke-width="0.45"/>
<line x1="172.08" y1="412.3" x2="172.08" y2="661.3" stroke="#f3f3f3" stroke-width="0.45"/>
<line x1="228.62" y1="412.3" x2="228.62" y2="661.3" stroke="#f3f3f3" stroke-width="0.45"/>
<line x1="285.18" y1="412.3" x2="285.18" y2="661.3" stroke="#f3f3f3" stroke-width="0.45"/>
<line x1="16.6" y1="451.85" x2="327.4" y2="451.85" stroke="#f3f3f3" stroke-width="0.45"/>
<line x1="16.6" y1="508.35" x2="327.4" y2="508.35" stroke="#f3f3f3" stroke-width="0.45"/>
<line x1="16.6" y1="564.85" x2="327.4" y2="564.85" stroke="#f3f3f3" stroke-width="0.45"/>
<line x1="16.6" y1="621.35" x2="327.4" y2="621.35" stroke="#f3f3f3" stroke-width="0.45"/>
<line x1="30.7" y1="412.3" x2="30.7" y2="661.3" stroke="#ebebeb" stroke-width="0.55"/>
<line x1="87.25" y1="412.3" x2="87.25" y2="661.3" stroke="#ebebeb" stroke-width="0.55"/>
<line x1="143.8" y1="412.3" x2="143.8" y2="661.3" stroke="#ebebeb" stroke-width="0.55"/>
<line x1="200.35" y1="412.3" x2="200.35" y2="661.3" stroke="#ebebeb" stroke-width="0.55"/>
<line x1="256.9" y1="412.3" x2="256.9" y2="661.3" stroke="#ebebeb" stroke-width="0.55"/>
<line x1="313.45" y1="412.3" x2="313.45" y2="661.3" stroke="#ebebeb" stroke-width="0.55"/>
<line x1="16.6" y1="423.6" x2="327.4" y2="423.6" stroke="#ebebeb" stroke-width="0.55"/>
<line x1="16.6" y1="480.1" x2="327.4" y2="480.1" stroke="#ebebeb" stroke-width="0.55"/>
<line x1="16.6" y1="536.6" x2="327.4" y2="536.6" stroke="#ebebeb" stroke-width="0.55"/>
<line x1="16.6" y1="593.1" x2="327.4" y2="593.1" stroke="#ebebeb" stroke-width="0.55"/>
<line x1="16.6" y1="649.6" x2="327.4" y2="649.6" stroke="#ebebeb" stroke-width="0.55"/>
<rect x="16.6" y="412.3" width="310.8" height="249" fill="none" stroke="#808080" stroke-width="0.8"/>
<line x1="30.7" y1="661.3" x2="30.7" y2="662.5" stroke="#555" stroke-width="0.5"/>
<text x="30.7" y="665.5" font-size="3.4" font-weight="normal" fill="#666" text-anchor="middle">−10</text>
<line x1="87.25" y1="661.3" x2="87.25" y2="662.5" stroke="#555" stroke-width="0.5"/>
<text x="87.25" y="665.5" font-size="3.4" font-weight="normal" fill="#666" text-anchor="middle">−5</text>
<line x1="143.8" y1="661.3" x2="143.8" y2="662.5" stroke="#555" stroke-width="0.5"/>
<text x="143.8" y="665.5" font-size="3.4" font-weight="normal" fill="#666" text-anchor="middle">0</text>
<line x1="200.35" y1="661.3" x2="200.35" y2="662.5" stroke="#555" stroke-width="0.5"/>
<text x="200.35" y="665.5" font-size="3.4" font-weight="normal" fill="#666" text-anchor="middle">5</text>
<line x1="256.9" y1="661.3" x2="256.9" y2="662.5" stroke="#555" stroke-width="0.5"/>
<text x="256.9" y="665.5" font-size="3.4" font-weight="normal" fill="#666" text-anchor="middle">10</text>
<line x1="313.45" y1="661.3" x2="313.45" y2="662.5" stroke="#555" stroke-width="0.5"/>
<text x="313.45" y="665.5" font-size="3.4" font-weight="normal" fill="#666" text-anchor="middle">15</text>
<line x1="15.4" y1="423.6" x2="16.6" y2="423.6" stroke="#555" stroke-width="0.5"/>
<text x="14.8" y="425.5" font-size="3.4" font-weight="normal" fill="#666" text-anchor="end">10</text>
<line x1="15.4" y1="480.1" x2="16.6" y2="480.1" stroke="#555" stroke-width="0.5"/>
<text x="14.8" y="482" font-size="3.4" font-weight="normal" fill="#666" text-anchor="end">5</text>
<line x1="15.4" y1="536.6" x2="16.6" y2="536.6" stroke="#555" stroke-width="0.5"/>
<text x="14.8" y="538.5" font-size="3.4" font-weight="normal" fill="#666" text-anchor="end">0</text>
<line x1="15.4" y1="593.1" x2="16.6" y2="593.1" stroke="#555" stroke-width="0.5"/>
<text x="14.8" y="595" font-size="3.4" font-weight="normal" fill="#666" text-anchor="end">−5</text>
<line x1="15.4" y1="649.6" x2="16.6" y2="649.6" stroke="#555" stroke-width="0.5"/>
<text x="14.8" y="651.5" font-size="3.4" font-weight="normal" fill="#666" text-anchor="end">−10</text>
<text x="16.9" y="409.6" font-size="4.6" font-weight="normal" fill="#111" text-anchor="start" textLength="23.3" lengthAdjust="spacingAndGlyphs">~ condition</text>
<text x="171" y="674.6" font-size="6.5" font-weight="normal" fill="#222" text-anchor="middle" textLength="59.2" lengthAdjust="spacingAndGlyphs">PC1: 49% variance</text>
<text x="9.3" y="541.2" font-size="6.5" font-weight="normal" fill="#222" text-anchor="middle" transform="rotate(-90 9.3 541.2)" textLength="59.4" lengthAdjust="spacingAndGlyphs">PC2: 28% variance</text>
<line x1="101.5" y1="494" x2="113.5" y2="494" stroke="#e4552f" stroke-width="0.6"/>
<circle cx="101.5" cy="494" r="1.55" fill="#fa4018"/>
<text x="114.2" y="495.5" font-size="4.25" font-weight="normal" fill="#e4552f" text-anchor="start" stroke="#e4552f" stroke-width="0.12">BO-I_CCS</text>
<line x1="102.2" y1="513.3" x2="114.5" y2="513.3" stroke="#5878ec" stroke-width="0.6"/>
<circle cx="102.2" cy="513.3" r="1.55" fill="#5a78f5"/>
<text x="115" y="514.8" font-size="4.25" font-weight="normal" fill="#5878ec" text-anchor="start" stroke="#5878ec" stroke-width="0.12">BO-I_C-H</text>
<line x1="141.7" y1="516.1" x2="148" y2="518.3" stroke="#5878ec" stroke-width="0.6"/>
<circle cx="141.7" cy="516.1" r="1.55" fill="#5a78f5"/>
<text x="148.3" y="520" font-size="4.25" font-weight="normal" fill="#5878ec" text-anchor="start" stroke="#5878ec" stroke-width="0.12">BO-III_C-H</text>
<line x1="148.3" y1="515" x2="164.5" y2="512.8" stroke="#e4552f" stroke-width="0.6"/>
<circle cx="148.3" cy="515" r="1.55" fill="#fa4018"/>
<text x="165" y="514.3" font-size="4.25" font-weight="normal" fill="#e4552f" text-anchor="start" stroke="#e4552f" stroke-width="0.12">BO-III_CCS</text>
<line x1="134.3" y1="533.1" x2="145.6" y2="533.1" stroke="#5878ec" stroke-width="0.6"/>
<circle cx="134.3" cy="533.1" r="1.55" fill="#5a78f5"/>
<text x="146.2" y="534.6" font-size="4.25" font-weight="normal" fill="#5878ec" text-anchor="start" stroke="#5878ec" stroke-width="0.12">BO-II_C-H</text>
<line x1="248.8" y1="498.4" x2="260.2" y2="498.4" stroke="#e4552f" stroke-width="0.6"/>
<circle cx="248.8" cy="498.4" r="1.55" fill="#fa4018"/>
<text x="260.7" y="499.9" font-size="4.25" font-weight="normal" fill="#e4552f" text-anchor="start" stroke="#e4552f" stroke-width="0.12">BO-II_CCS</text>
<line x1="81.2" y1="564.6" x2="91" y2="564.6" stroke="#3fd83a" stroke-width="0.6"/>
<circle cx="81.2" cy="564.6" r="1.55" fill="#40ee38"/>
<text x="91.5" y="566.1" font-size="4.25" font-weight="normal" fill="#3fd83a" text-anchor="start" stroke="#3fd83a" stroke-width="0.12">BO-III_H2O2</text>
<line x1="128.1" y1="597" x2="138.2" y2="597" stroke="#3fd83a" stroke-width="0.6"/>
<circle cx="128.1" cy="597" r="1.55" fill="#40ee38"/>
<text x="138.6" y="598.5" font-size="4.25" font-weight="normal" fill="#3fd83a" text-anchor="start" stroke="#3fd83a" stroke-width="0.12">BO-II_H2O2</text>
<line x1="207.7" y1="599.4" x2="218.4" y2="599.4" stroke="#3fd83a" stroke-width="0.6"/>
<circle cx="207.7" cy="599.4" r="1.55" fill="#40ee38"/>
<text x="218.8" y="600.9" font-size="4.25" font-weight="normal" fill="#3fd83a" text-anchor="start" stroke="#3fd83a" stroke-width="0.12">BO-I_H2O2</text>
<text x="271.5" y="369.6" font-size="7" font-weight="bold" fill="#1a1a1a" text-anchor="start" textLength="41.5" lengthAdjust="spacingAndGlyphs">BOs group</text>
<circle cx="273.9" cy="377.9" r="2.7" fill="#fa4018"/>
<text x="280.2" y="380.6" font-size="6.6" font-weight="bold" fill="#1a1a1a" text-anchor="start" textLength="14.9" lengthAdjust="spacingAndGlyphs">CCS</text>
<circle cx="273.9" cy="389.1" r="2.7" fill="#5a78f5"/>
<text x="280.2" y="391.8" font-size="6.6" font-weight="bold" fill="#1a1a1a" text-anchor="start" textLength="36" lengthAdjust="spacingAndGlyphs">CCS+H<tspan font-size="62%" dy="0.53em">2</tspan><tspan dy="-0.33em">O</tspan><tspan font-size="62%" dy="0.53em">2</tspan></text>
<circle cx="273.9" cy="399.9" r="2.7" fill="#40ee38"/>
<text x="280.2" y="402.6" font-size="6.6" font-weight="bold" fill="#1a1a1a" text-anchor="start" textLength="16.6" lengthAdjust="spacingAndGlyphs">H<tspan font-size="62%" dy="0.53em">2</tspan><tspan dy="-0.33em">O</tspan><tspan font-size="62%" dy="0.53em">2</tspan></text>
<line x1="400.02" y1="412.1" x2="400.02" y2="660.3" stroke="#f3f3f3" stroke-width="0.45"/>
<line x1="479.78" y1="412.1" x2="479.78" y2="660.3" stroke="#f3f3f3" stroke-width="0.45"/>
<line x1="559.54" y1="412.1" x2="559.54" y2="660.3" stroke="#f3f3f3" stroke-width="0.45"/>
<line x1="639.3" y1="412.1" x2="639.3" y2="660.3" stroke="#f3f3f3" stroke-width="0.45"/>
<line x1="345.5" y1="463.21" x2="667.3" y2="463.21" stroke="#f3f3f3" stroke-width="0.45"/>
<line x1="345.5" y1="516.39" x2="667.3" y2="516.39" stroke="#f3f3f3" stroke-width="0.45"/>
<line x1="345.5" y1="569.57" x2="667.3" y2="569.57" stroke="#f3f3f3" stroke-width="0.45"/>
<line x1="345.5" y1="622.75" x2="667.3" y2="622.75" stroke="#f3f3f3" stroke-width="0.45"/>
<line x1="360.14" y1="412.1" x2="360.14" y2="660.3" stroke="#ebebeb" stroke-width="0.55"/>
<line x1="439.9" y1="412.1" x2="439.9" y2="660.3" stroke="#ebebeb" stroke-width="0.55"/>
<line x1="519.66" y1="412.1" x2="519.66" y2="660.3" stroke="#ebebeb" stroke-width="0.55"/>
<line x1="599.42" y1="412.1" x2="599.42" y2="660.3" stroke="#ebebeb" stroke-width="0.55"/>
<line x1="345.5" y1="436.62" x2="667.3" y2="436.62" stroke="#ebebeb" stroke-width="0.55"/>
<line x1="345.5" y1="489.8" x2="667.3" y2="489.8" stroke="#ebebeb" stroke-width="0.55"/>
<line x1="345.5" y1="542.98" x2="667.3" y2="542.98" stroke="#ebebeb" stroke-width="0.55"/>
<line x1="345.5" y1="596.16" x2="667.3" y2="596.16" stroke="#ebebeb" stroke-width="0.55"/>
<line x1="345.5" y1="649.34" x2="667.3" y2="649.34" stroke="#ebebeb" stroke-width="0.55"/>
<rect x="345.5" y="412.1" width="321.8" height="248.2" fill="none" stroke="#808080" stroke-width="0.8"/>
<line x1="360.14" y1="660.3" x2="360.14" y2="661.5" stroke="#555" stroke-width="0.5"/>
<text x="360.14" y="664.5" font-size="3.4" font-weight="normal" fill="#666" text-anchor="middle">−20</text>
<line x1="439.9" y1="660.3" x2="439.9" y2="661.5" stroke="#555" stroke-width="0.5"/>
<text x="439.9" y="664.5" font-size="3.4" font-weight="normal" fill="#666" text-anchor="middle">0</text>
<line x1="519.66" y1="660.3" x2="519.66" y2="661.5" stroke="#555" stroke-width="0.5"/>
<text x="519.66" y="664.5" font-size="3.4" font-weight="normal" fill="#666" text-anchor="middle">20</text>
<line x1="599.42" y1="660.3" x2="599.42" y2="661.5" stroke="#555" stroke-width="0.5"/>
<text x="599.42" y="664.5" font-size="3.4" font-weight="normal" fill="#666" text-anchor="middle">40</text>
<line x1="344.3" y1="436.62" x2="345.5" y2="436.62" stroke="#555" stroke-width="0.5"/>
<text x="343.7" y="438.52" font-size="3.4" font-weight="normal" fill="#666" text-anchor="end">20</text>
<line x1="344.3" y1="489.8" x2="345.5" y2="489.8" stroke="#555" stroke-width="0.5"/>
<text x="343.7" y="491.7" font-size="3.4" font-weight="normal" fill="#666" text-anchor="end">0</text>
<line x1="344.3" y1="542.98" x2="345.5" y2="542.98" stroke="#555" stroke-width="0.5"/>
<text x="343.7" y="544.88" font-size="3.4" font-weight="normal" fill="#666" text-anchor="end">−20</text>
<line x1="344.3" y1="596.16" x2="345.5" y2="596.16" stroke="#555" stroke-width="0.5"/>
<text x="343.7" y="598.06" font-size="3.4" font-weight="normal" fill="#666" text-anchor="end">−40</text>
<line x1="344.3" y1="649.34" x2="345.5" y2="649.34" stroke="#555" stroke-width="0.5"/>
<text x="343.7" y="651.24" font-size="3.4" font-weight="normal" fill="#666" text-anchor="end">−60</text>
<text x="345.7" y="408.7" font-size="4.6" font-weight="normal" fill="#111" text-anchor="start" textLength="23.3" lengthAdjust="spacingAndGlyphs">~ condition</text>
<text x="507.3" y="674.5" font-size="6.5" font-weight="normal" fill="#222" text-anchor="middle" textLength="59.4" lengthAdjust="spacingAndGlyphs">PC1: 50% variance</text>
<text x="336.6" y="541.3" font-size="6.5" font-weight="normal" fill="#222" text-anchor="middle" transform="rotate(-90 336.6 541.3)" textLength="59.6" lengthAdjust="spacingAndGlyphs">PC2: 28% variance</text>
<line x1="395.4" y1="464.8" x2="396.5" y2="462.5" stroke="#e4552f" stroke-width="0.6"/>
<circle cx="395.4" cy="464.8" r="1.55" fill="#fa4018"/>
<text x="386" y="462.5" font-size="4.25" font-weight="normal" fill="#e4552f" text-anchor="start" stroke="#e4552f" stroke-width="0.12">BO-II_CCS</text>
<line x1="398.3" y1="465.8" x2="396.8" y2="456.9" stroke="#5878ec" stroke-width="0.6"/>
<circle cx="398.3" cy="465.8" r="1.55" fill="#5a78f5"/>
<text x="384.9" y="456.8" font-size="4.25" font-weight="normal" fill="#5878ec" text-anchor="start" stroke="#5878ec" stroke-width="0.12">BO-II_C-DX</text>
<line x1="401.4" y1="468.1" x2="400.5" y2="450.7" stroke="#e4552f" stroke-width="0.6"/>
<circle cx="401.4" cy="468.1" r="1.55" fill="#fa4018"/>
<text x="390.1" y="450.9" font-size="4.25" font-weight="normal" fill="#e4552f" text-anchor="start" stroke="#e4552f" stroke-width="0.12">BO-I_CCS</text>
<line x1="401.4" y1="468.1" x2="411.3" y2="455.3" stroke="#e4552f" stroke-width="0.6"/>
<circle cx="401.4" cy="468.1" r="1.55" fill="#fa4018"/>
<text x="411.6" y="456.8" font-size="4.25" font-weight="normal" fill="#e4552f" text-anchor="start" stroke="#e4552f" stroke-width="0.12">BO-III_CCS</text>
<line x1="404.9" y1="468.1" x2="410.8" y2="461.5" stroke="#5878ec" stroke-width="0.6"/>
<circle cx="404.9" cy="468.1" r="1.55" fill="#5a78f5"/>
<text x="411" y="463" font-size="4.25" font-weight="normal" fill="#5878ec" text-anchor="start" stroke="#5878ec" stroke-width="0.12">BO-I_C-DX</text>
<line x1="409.3" y1="472.5" x2="410.3" y2="468.1" stroke="#5878ec" stroke-width="0.6"/>
<circle cx="409.3" cy="472.5" r="1.55" fill="#5a78f5"/>
<text x="410.6" y="468.9" font-size="4.25" font-weight="normal" fill="#5878ec" text-anchor="start" stroke="#5878ec" stroke-width="0.12">BO-III_C-DX</text>
<line x1="642.3" y1="449.6" x2="648.9" y2="441.4" stroke="#3fd83a" stroke-width="0.6"/>
<circle cx="642.3" cy="449.6" r="1.55" fill="#40ee38"/>
<text x="637.4" y="440.7" font-size="4.25" font-weight="normal" fill="#3fd83a" text-anchor="start" stroke="#3fd83a" stroke-width="0.12">BO-III_DOXO</text>
<line x1="444.3" y1="517.3" x2="450.8" y2="508.6" stroke="#3fd83a" stroke-width="0.6"/>
<circle cx="444.3" cy="517.3" r="1.55" fill="#40ee38"/>
<text x="440" y="507.9" font-size="4.25" font-weight="normal" fill="#3fd83a" text-anchor="start" stroke="#3fd83a" stroke-width="0.12">BO-II_DOXO</text>
<line x1="460.8" y1="632.8" x2="467.1" y2="624.2" stroke="#3fd83a" stroke-width="0.6"/>
<circle cx="460.8" cy="632.8" r="1.55" fill="#40ee38"/>
<text x="457.1" y="623.8" font-size="4.25" font-weight="normal" fill="#3fd83a" text-anchor="start" stroke="#3fd83a" stroke-width="0.12">BO-I_DOXO</text>
<text x="611.5" y="371.3" font-size="7" font-weight="bold" fill="#1a1a1a" text-anchor="start" textLength="41.8" lengthAdjust="spacingAndGlyphs">BOs group</text>
<circle cx="614" cy="379.3" r="2.7" fill="#fa4018"/>
<text x="620.5" y="382" font-size="6.6" font-weight="bold" fill="#1a1a1a" text-anchor="start" textLength="14.6" lengthAdjust="spacingAndGlyphs">CCS</text>
<circle cx="614" cy="390.1" r="2.7" fill="#5a78f5"/>
<text x="620.5" y="392.8" font-size="6.6" font-weight="bold" fill="#1a1a1a" text-anchor="start" textLength="40.4" lengthAdjust="spacingAndGlyphs">CCS+DOXO</text>
<circle cx="614" cy="401.2" r="2.7" fill="#40ee38"/>
<text x="620.5" y="403.9" font-size="6.6" font-weight="bold" fill="#1a1a1a" text-anchor="start" textLength="20.7" lengthAdjust="spacingAndGlyphs">DOXO</text>
</svg>
</body></html>
